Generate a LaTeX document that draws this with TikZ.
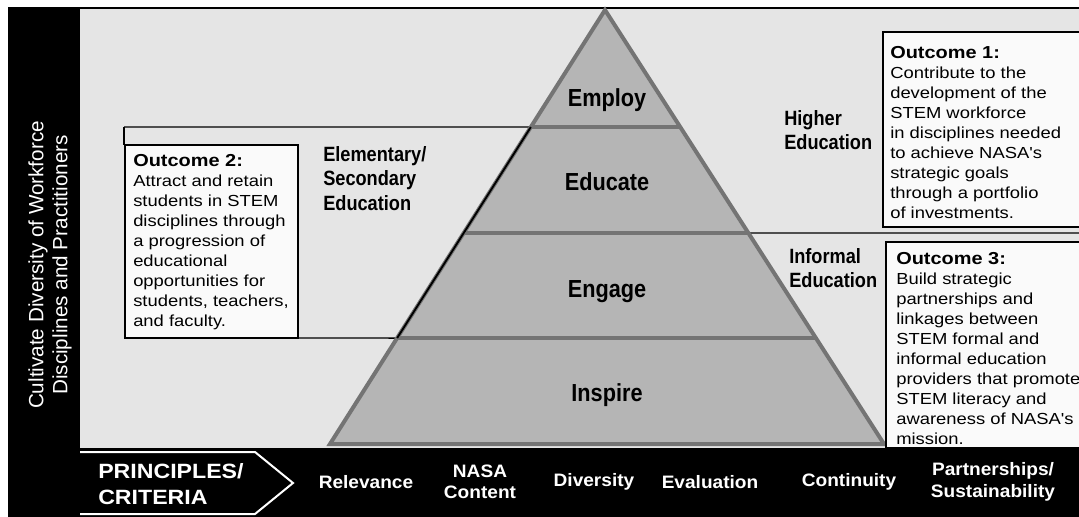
\documentclass[tikz,border=0pt]{standalone}
\usepackage{fontspec}
\setmainfont{Liberation Sans}
\newfontfamily\bodyfont[FakeStretch=1.15]{Liberation Sans}
\newfontfamily\narrowfont[FakeStretch=0.88]{Liberation Sans}
\newfontfamily\widefont[FakeStretch=1.06]{Liberation Sans}
\newfontfamily\capsfont[FakeStretch=1.12]{Liberation Sans}
\usepackage{tikz}
\usetikzlibrary{calc}
\definecolor{bggray}{HTML}{E5E5E5}
\definecolor{pyrfill}{HTML}{B5B5B5}
\definecolor{pyredge}{HTML}{747474}
\definecolor{boxwhite}{HTML}{FAFAFA}

\begin{document}
\begin{tikzpicture}[x=0.75pt,y=-0.75pt,
  outbox/.style={draw=black,line width=1.8pt,fill=boxwhite},
  outtext/.style={anchor=north west,align=left,inner sep=0pt,
    font=\bodyfont\fontsize{12}{15}\selectfont},
  layer/.style={font=\narrowfont\bfseries\fontsize{18.5}{20}\selectfont},
  level/.style={anchor=north west,align=left,inner sep=0pt,
    font=\narrowfont\bfseries\fontsize{15.5}{18.5}\selectfont},
  crit/.style={text=white,align=center,inner sep=0pt,
    font=\widefont\bfseries\fontsize{13.5}{16}\selectfont},
  thinline/.style={black,line width=1.1pt},
  bandline/.style={pyredge,line width=3pt}]
\useasboundingbox (0,0) rectangle (1079,517);
\clip (0,0) rectangle (1079,517);
\fill[white] (0,0) rectangle (1079,517);
\fill[bggray] (80,8) rectangle (1079,448);
\draw[line width=1.5pt] (80,8) -- (1079,8);
\fill[black] (8,7) rectangle (80,517);
\fill[black] (80,448) rectangle (1079,517);

\coordinate (apex) at (605,10);
\coordinate (bl) at (330,444);
\coordinate (br) at (884,444);
\coordinate (l1) at ($(apex)!0.2696!(bl)$);
\coordinate (l2) at ($(apex)!0.5138!(bl)$);
\coordinate (l3) at ($(apex)!0.7558!(bl)$);
\coordinate (r1) at ($(apex)!0.2696!(br)$);
\coordinate (r2) at ($(apex)!0.5138!(br)$);
\coordinate (r3) at ($(apex)!0.7558!(br)$);
\coordinate (elemtop) at (124,127);
\coordinate (elembot) at (298,338);
\coordinate (infright) at (1079,233);

\draw[thinline] (elemtop) -- (l1);
\draw[thinline] (elemtop) -- (124,145);
\draw[thinline] (elembot) -- (l3);
\draw[thinline] (r2) -- (infright);

\filldraw[fill=pyrfill,draw=pyredge,line width=3pt] (apex) -- (br) -- (bl) -- cycle;
\draw[bandline] (l1) -- (r1);
\draw[bandline] (l2) -- (r2);
\draw[bandline] (l3) -- (r3);
\draw[black,line width=1.4pt] (l1) -- (l3);

\node[layer] (employ) at (607,100) {Employ};
\node[layer] (educate) at (607,182) {Educate};
\node[layer] (engage) at (607,292) {Engage};
\node[layer] (inspire) at (607,395) {Inspire};

\draw[outbox] (125,145) rectangle (298,338);
\node[outtext] (out2) at (133,154) {{\bfseries\fontsize{13}{15}\selectfont Outcome 2:}\\
Attract and retain\\students in STEM\\disciplines through\\a progression of\\educational\\
opportunities for\\students, teachers,\\and faculty.};

\draw[outbox] (883,32) rectangle (1090,227);
\node[outtext] (out1) at (890,46) {{\bfseries\fontsize{13}{15}\selectfont Outcome 1:}\\
Contribute to the\\development of the\\STEM workforce\\in disciplines needed\\
to achieve NASA's\\strategic goals\\through a portfolio\\of investments.};

\draw[outbox] (886,242) rectangle (1090,448);
\node[outtext] (out3) at (896,252) {{\bfseries\fontsize{13}{15}\selectfont Outcome 3:}\\
Build strategic\\partnerships and\\linkages between\\STEM formal and\\
informal education\\providers that promote\\STEM literacy and\\awareness of NASA's\\mission.};

\node[level] (elem) at (323,146) {Elementary/\\Secondary\\Education};
\node[level] (higher) at (784,110) {Higher\\Education};
\node[level] (informal) at (789,248) {Informal\\Education};

\node[rotate=90,text=white,align=center,inner sep=0pt,
  font=\fontsize{15.5}{18}\selectfont] (cultivate) at (50,265)
  {Cultivate Diversity of Workforce\\Disciplines and Practitioners};

\draw[white,line width=1.5pt,fill=black] (80,452) -- (255,452) -- (293,483) -- (255,514) -- (80,514);
\node[text=white,anchor=west,align=left,inner sep=0pt,
  font=\capsfont\bfseries\fontsize{15.5}{20}\selectfont] (principles) at (98,484) {PRINCIPLES/\\CRITERIA};
\node[crit] (relevance) at (366,482) {Relevance};
\node[crit] (content) at (480,482) {NASA\\Content};
\node[crit] (diversity) at (594,482) {Diversity};
\node[crit] (evaluation) at (710,482) {Evaluation};
\node[crit] (continuity) at (849,482) {Continuity};
\node[crit] (partners) at (993,482) {Partnerships/\\Sustainability};
\end{tikzpicture}
\end{document}
